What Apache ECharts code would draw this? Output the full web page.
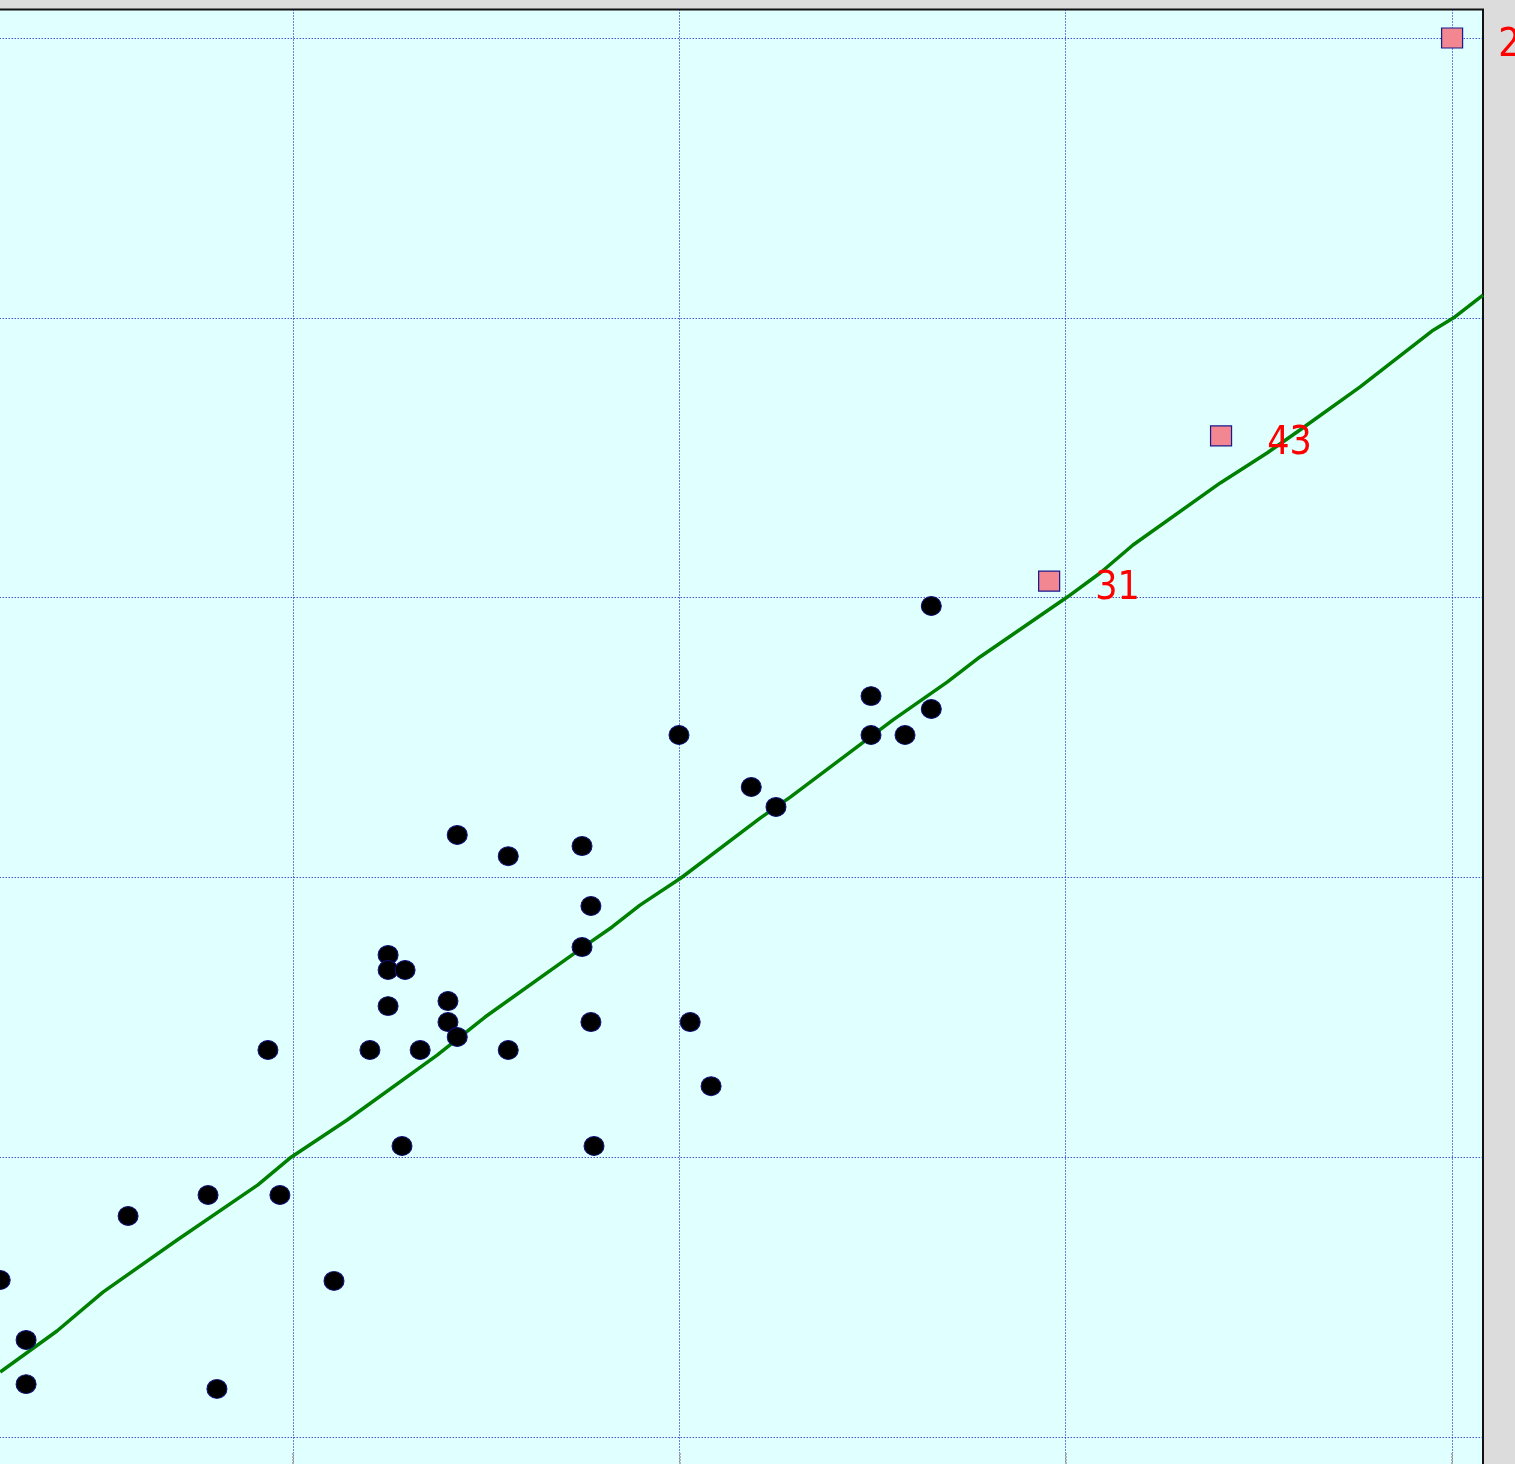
<!DOCTYPE html>
<html>
<head>
<meta charset="utf-8">
<script src="https://cdn.jsdelivr.net/npm/echarts@6/dist/echarts.min.js"></script>
<style>
  html, body { margin: 0; padding: 0; background: #dcdcdc; }
  #chart { width: 1515px; height: 1464px; }
</style>
</head>
<body>
<div id="chart"></div>
<script>
// Observed cases (black dots)
const pointX = [12.42, 13.09, 13.09, 15.73, 17.80, 18.03, 19.35, 19.66, 21.06, 21.99,
                22.46, 22.46, 22.90, 22.46, 22.82, 23.29, 24.01, 24.01, 24.25, 24.25,
                25.57, 25.57, 27.48, 27.71, 27.48, 27.71, 27.79, 29.99, 30.28, 30.82,
                31.86, 32.50, 34.96, 34.96, 35.84, 36.52, 36.52];
const pointY = [5.61, 3.47, 1.89, 7.90, 8.65, 1.72, 13.83, 8.65, 5.58, 13.83,
                17.23, 16.69, 16.69, 15.40, 10.40, 13.83, 15.58, 14.83, 14.30, 21.52,
                20.76, 13.83, 21.12, 18.98, 17.51, 14.83, 10.40, 25.09, 14.83, 12.54,
                23.23, 22.52, 26.48, 25.09, 25.09, 26.02, 29.70];

// Flagged cases (pink squares) with their case numbers
const outlierX = [39.57, 44.02, 50.00];
const outlierY = [30.59, 35.78, 50.00];
const outlierIds = ['31', '43', '2'];

// Fitted trend curve
const fitX = [12.42, 13.89, 15.08, 17.00, 19.09, 19.92, 21.40, 23.73, 24.97, 27.48,
              28.26, 28.98, 30.04, 32.09, 32.87, 35.53, 36.93, 37.78, 40.04, 40.89,
              41.74, 44.00, 45.21, 46.07, 47.62, 49.51, 50.03, 50.80];
const fitY = [2.32, 3.79, 5.18, 7.04, 9.01, 9.97, 11.33, 13.65, 15.01, 17.48,
              18.23, 19.01, 19.98, 22.12, 22.87, 25.63, 26.98, 27.88, 30.02, 30.88,
              31.88, 34.10, 35.17, 36.00, 37.53, 39.56, 39.99, 40.81];

// Axis ranges and tick positions
const xMin = 10, xMax = 50.8, xStep = 10;
const yMin = -10, yMax = 51.02, yStep = 10;
const xTickValues = [20, 30, 40, 50];
const yTickValues = [0, 10, 20, 30, 40, 50];

const chart = echarts.init(document.getElementById('chart'), null, { renderer: 'canvas' });

const gridLineStyle = { color: '#0000b4', width: 1, type: [1, 2] };

chart.setOption({
  animation: false,
  backgroundColor: '#dcdcdc',
  grid: {
    show: true,
    outerBoundsMode: 'none',
    containLabel: false,
    left: -93.3, top: 9.5, width: 1576.3, height: 1707.3,
    backgroundColor: '#e0ffff',
    borderColor: '#111111',
    borderWidth: 2
  },
  xAxis: {
    type: 'value', min: xMin, max: xMax, interval: xStep,
    offset: -252.8,
    axisLine: { show: false, onZero: false },
    axisLabel: { show: false },
    axisTick: { show: true, inside: true, length: 12, customValues: xTickValues,
      lineStyle: { color: '#b0b0b0', width: 2, type: [2, 1] } },
    splitLine: { show: true, lineStyle: gridLineStyle }
  },
  yAxis: {
    type: 'value', min: yMin, max: yMax, interval: yStep,
    axisLine: { show: false, onZero: false },
    axisLabel: { show: false },
    axisTick: { show: false, customValues: yTickValues },
    splitLine: { show: true, lineStyle: gridLineStyle }
  },
  series: [
    {
      type: 'line',
      data: fitX.map((x, i) => [x, fitY[i]]),
      showSymbol: false,
      symbol: 'none',
      lineStyle: { color: '#008000', width: 3.5 },
      z: 2
    },
    {
      type: 'scatter',
      data: pointX.map((x, i) => [x, pointY[i]]),
      symbol: 'circle',
      symbolSize: [20, 19],
      itemStyle: { color: '#000000', borderColor: '#10107a', borderWidth: 1, opacity: 1 },
      z: 3
    },
    {
      type: 'scatter',
      data: outlierX.map((x, i) => ({ value: [x, outlierY[i]], name: outlierIds[i] })),
      symbol: 'rect',
      symbolSize: [21, 20],
      itemStyle: { color: '#f28792', borderColor: '#1a1a8c', borderWidth: 1.2, opacity: 1 },
      label: {
        show: true,
        position: 'right',
        distance: 35,
        offset: [0, 8],
        formatter: p => p.name,
        color: '#ff0000',
        fontSize: 39,
        fontFamily: "'Liberation Sans Narrow', 'DejaVu Sans Condensed', 'Liberation Sans', sans-serif"
      },
      z: 4
    }
  ]
});
</script>
</body>
</html>
